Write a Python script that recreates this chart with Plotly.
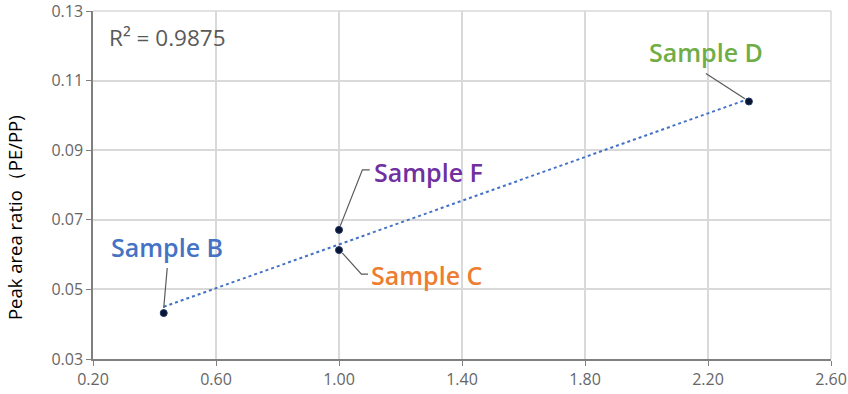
import numpy as np
import plotly.graph_objects as go

samples = ["Sample B", "Sample F", "Sample C", "Sample D"]
x_vals = [0.43, 1.00, 1.00, 2.333]
y_vals = [0.0432, 0.0671, 0.0613, 0.1040]
label_colors = ["#4472C4", "#7030A0", "#ED7D31", "#70AD47"]
r2_text = "R² = 0.9875"
y_title = "Peak area ratio（PE/PP)"
x_ticks = [0.20, 0.60, 1.00, 1.40, 1.80, 2.20, 2.60]
y_ticks = [0.03, 0.05, 0.07, 0.09, 0.11, 0.13]

# label offsets (pixels) and leader paths (pixels, relative to point)
label_shift = [(3, 66), (89, 58), (88, -25), (-43, 49)]
leader_paths = [
    "M 0 5 L 3.5 45",
    "M 1.3 4 L 23.4 60 L 30.7 60",
    "M 3.4 -3 L 22.4 -24 L 29 -24",
    "M -43 28 L -4 2.7",
]

slope, intercept = np.polyfit(x_vals, y_vals, 1)
xt = np.array([min(x_vals), max(x_vals)])
yt = slope * xt + intercept

fig = go.Figure()
fig.add_trace(go.Scatter(x=xt, y=yt, mode="lines",
                         line=dict(color="#4472C4", width=2, dash="dot"),
                         showlegend=False, hoverinfo="skip"))
fig.add_trace(go.Scatter(x=x_vals, y=y_vals, mode="markers",
                         marker=dict(color="#0A1433", size=7,
                                     line=dict(color="#1F3864", width=1)),
                         showlegend=False))

# top and right border grid lines (plotly omits gridlines at range ends)
fig.add_shape(type="line", xref="paper", yref="paper", x0=0, x1=1, y0=1, y1=1,
              line=dict(color="#D9D9D9", width=1.5), layer="below")
fig.add_shape(type="line", xref="paper", yref="paper", x0=1, x1=1, y0=0, y1=1,
              line=dict(color="#D9D9D9", width=1.5), layer="below")

for s, xv, yv, c, (dx, dy), p in zip(samples, x_vals, y_vals, label_colors,
                                      label_shift, leader_paths):
    fig.add_shape(type="path", xref="x", yref="y", xsizemode="pixel",
                  ysizemode="pixel", xanchor=xv, yanchor=yv, path=p,
                  line=dict(color="#595959", width=1.2))
    fig.add_annotation(x=xv, y=yv, xref="x", yref="y", text=s,
                       showarrow=False, xshift=dx, yshift=dy,
                       font=dict(family="Open Sans", size=25, color=c,
                                 weight=600))

fig.add_annotation(x=0.019, y=0.925, xref="paper", yref="paper",
                   xanchor="left", yanchor="middle", text=r2_text,
                   showarrow=False,
                   font=dict(family="Open Sans", size=22.5, color="#595959"))

fig.add_annotation(x=-0.107, y=0.405, xref="paper", yref="paper",
                   xanchor="center", yanchor="middle", text=y_title,
                   textangle=-90, showarrow=False,
                   font=dict(family="Open Sans", size=18.5, color="#000000"))

fig.update_xaxes(range=[0.2, 2.6], tickvals=x_ticks,
                 ticktext=[f"{v:.2f}" for v in x_ticks],
                 showgrid=True, gridcolor="#D9D9D9", gridwidth=1.5,
                 showline=True, linecolor="#808080", linewidth=1.5,
                 ticks="outside", ticklen=5, tickcolor="#808080",
                 zeroline=False, automargin=False, ticklabeloverflow="allow",
                 tickfont=dict(family="Open Sans", size=16, color="#666666"))
fig.update_yaxes(range=[0.03, 0.13], tickvals=y_ticks,
                 ticktext=[f"{v:.2f}" for v in y_ticks],
                 showgrid=True, gridcolor="#D9D9D9", gridwidth=1.5,
                 showline=True, linecolor="#808080", linewidth=1.5,
                 ticks="outside", ticklen=5, tickcolor="#808080",
                 zeroline=False, automargin=False, ticklabeloverflow="allow",
                 tickfont=dict(family="Open Sans", size=16, color="#666666"))

fig.update_layout(width=848, height=394,
                  margin=dict(l=93, r=17, t=11, b=35),
                  plot_bgcolor="white", paper_bgcolor="white")

fig.write_html("out.html", config={"displayModeBar": False},
               post_script="document.body.style.margin='0';"
                           "document.body.style.overflow='hidden';")
